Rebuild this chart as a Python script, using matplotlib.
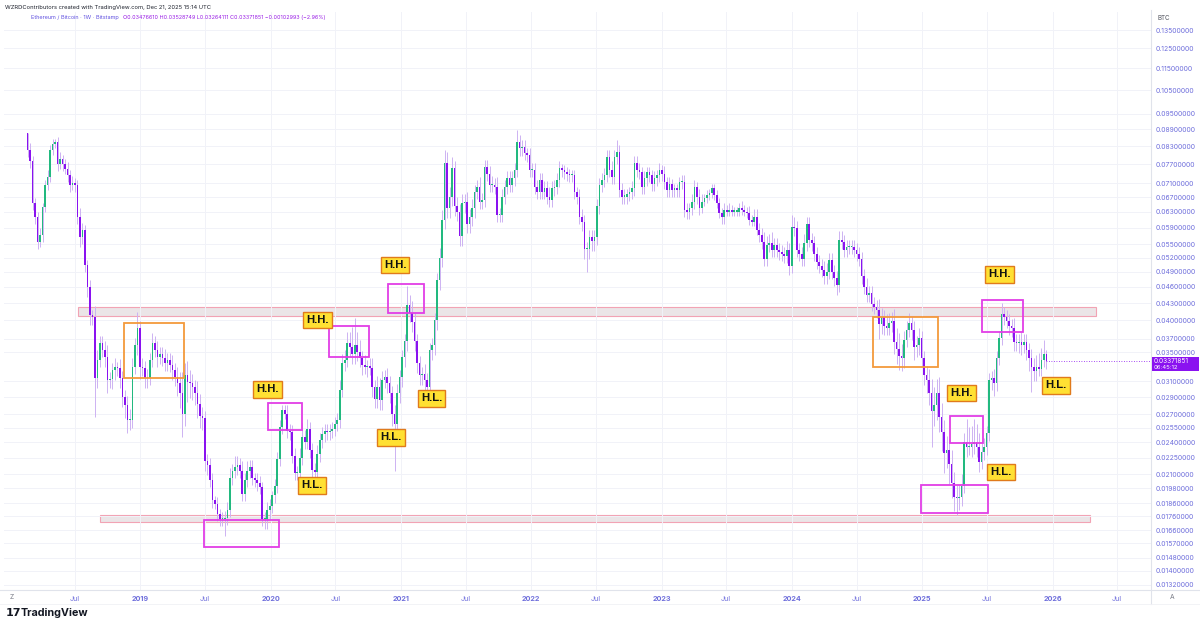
import numpy as np
import pandas as pd
import matplotlib
matplotlib.use('Agg')
import matplotlib.pyplot as plt
import matplotlib.dates as mdates
from matplotlib.patches import Rectangle
from matplotlib.lines import Line2D
from matplotlib.ticker import FuncFormatter, NullLocator, FixedLocator

plt.rcParams['font.family'] = ['Inter', 'DejaVu Sans']

# ---------------- data (weekly ETH/BTC, Bitstamp) ----------------
START = '2018-02-19'
first_open = 876.0   # units of 1e-4 BTC
closes = [
    817, 780, 655, 617, 555, 572, 642, 705, 729, 817,
    839, 845, 770, 785, 770, 755, 735, 705, 712, 705,
    617, 567, 584, 505, 460, 409, 405, 314, 339, 363,
    353, 343, 311, 313, 325, 329, 327, 314, 290, 280,
    263, 263, 329, 360, 387, 329, 327, 314, 314, 339,
    364, 353, 343, 347, 341, 334, 339, 332, 325, 316,
    307, 295, 270, 318, 309, 307, 302, 295, 282, 268,
    266, 222, 218, 205, 188, 185, 178, 174, 174, 175,
    181, 207, 213, 216, 218, 213, 193, 205, 213, 216,
    207, 205, 202, 199, 174, 174, 181, 184, 192, 200,
    224, 256, 275, 270, 252, 250, 227, 211, 211, 225,
    245, 240, 254, 232, 214, 212, 228, 242, 248, 252,
    250, 252, 254, 259, 263, 299, 334, 339, 363, 357,
    347, 360, 351, 342, 332, 329, 329, 328, 302, 288,
    302, 286, 311, 315, 307, 295, 270, 259, 295, 315,
    343, 367, 427, 413, 397, 367, 334, 318, 320, 311,
    302, 353, 360, 400, 474, 520, 610, 772, 640, 672,
    756, 645, 631, 570, 654, 658, 600, 618, 640, 686,
    700, 658, 663, 761, 740, 705, 705, 700, 622, 622,
    672, 700, 725, 705, 725, 751, 844, 822, 828, 806,
    800, 751, 751, 700, 686, 720, 686, 695, 672, 663,
    695, 700, 720, 756, 751, 745, 740, 735, 735, 686,
    672, 618, 605, 539, 539, 566, 557, 566, 645, 705,
    720, 735, 794, 751, 730, 794, 811, 691, 672, 672,
    680, 686, 695, 772, 751, 745, 700, 725, 745, 735,
    709, 725, 735, 751, 740, 715, 691, 709, 691, 695,
    691, 715, 715, 635, 631, 640, 658, 700, 672, 640,
    658, 667, 677, 681, 695, 677, 654, 627, 618, 635,
    631, 635, 631, 631, 631, 640, 635, 631, 627, 609,
    605, 618, 584, 572, 556, 517, 548, 552, 537, 548,
    537, 532, 528, 524, 537, 503, 592, 588, 537, 528,
    517, 552, 600, 560, 552, 528, 511, 503, 494, 481,
    490, 515, 490, 477, 464, 560, 556, 537, 544, 544,
    544, 537, 528, 517, 481, 460, 445, 448, 429, 423,
    417, 394, 405, 391, 388, 396, 399, 366, 355, 345,
    341, 368, 384, 396, 384, 357, 360, 372, 342, 318,
    311, 295, 273, 280, 295, 267, 251, 229, 232, 219,
    202, 191, 190, 191, 200, 240, 235, 235, 238, 240,
    235, 221, 230, 235, 249, 311, 314, 307, 342, 372,
    410, 405, 399, 391, 388, 366, 363, 366, 360, 366,
    353, 341, 329, 323, 329, 326, 339, 347.661, 337.1851,
]
# upper / lower wick length in % beyond the body
wick_up = [
    0, 3, 2, 2, 2, 3, 2, 2, 3, 2,
    2, 1, 2, 3, 2, 2, 3, 2, 3, 2,
    2, 4, 3, 2, 2, 3, 2, 5, 4, 3,
    3, 4, 5, 3, 3, 4, 2, 4, 3, 3,
    4, 5, 4, 3, 7, 3, 4, 3, 4, 3,
    4, 3, 4, 3, 3, 4, 3, 3, 4, 3,
    4, 5, 9, 5, 6, 5, 4, 3, 5, 4,
    4, 3, 3, 3, 3, 2, 3, 2, 3, 3,
    3, 4, 3, 5, 4, 3, 4, 3, 4, 3,
    3, 2, 3, 3, 2, 3, 3, 3, 2, 3,
    3, 3, 2, 2, 4, 3, 3, 3, 3, 4,
    6, 3, 4, 3, 3, 3, 4, 3, 3, 3,
    3, 3, 3, 3, 3, 4, 4, 4, 5, 5,
    9, 12, 6, 5, 3, 4, 3, 4, 4, 3,
    5, 4, 4, 3, 4, 3, 3, 4, 4, 3,
    3, 3, 8, 4, 5, 4, 3, 3, 3, 4,
    3, 3, 3, 3, 3, 4, 4, 6, 5, 4,
    5, 3, 4, 3, 4, 3, 4, 3, 4, 3,
    3, 4, 3, 3, 3, 3, 4, 3, 4, 3,
    3, 3, 3, 3, 3, 3, 5, 3, 3, 3,
    2, 3, 3, 3, 3, 3, 3, 3, 3, 4,
    3, 3, 3, 3, 2, 2, 2, 2, 2, 2,
    2, 3, 3, 3, 3, 3, 3, 3, 3, 3,
    3, 3, 3, 3, 4, 3, 5, 3, 3, 3,
    2, 2, 3, 3, 3, 3, 2, 3, 2, 2,
    2, 3, 2, 3, 2, 3, 2, 3, 2, 2,
    2, 2, 3, 3, 3, 2, 3, 3, 2, 3,
    3, 2, 2, 2, 2, 2, 2, 2, 2, 3,
    2, 3, 2, 2, 2, 2, 3, 2, 2, 3,
    2, 3, 3, 3, 3, 4, 4, 4, 5, 3,
    3, 3, 3, 3, 4, 3, 5, 4, 3, 3,
    3, 4, 3, 3, 3, 3, 3, 3, 3, 4,
    4, 3, 3, 3, 3, 4, 4, 3, 3, 3,
    3, 3, 3, 3, 3, 3, 4, 3, 3, 3,
    3, 5, 4, 3, 5, 4, 4, 5, 6, 7,
    5, 4, 4, 4, 3, 4, 4, 4, 3, 3,
    4, 5, 6, 8, 6, 7, 6, 5, 6, 5,
    6, 5, 5, 5, 5, 4, 10, 9, 8, 10,
    8, 6, 4, 4, 3, 3, 3, 4, 3, 3,
    5, 3, 3, 3, 3, 4, 3, 3, 4, 3,
    3, 3, 4, 4, 5, 6, 5, 6, 0,
]
wick_dn = [
    3, 3, 3, 3, 3, 2, 3, 2, 2, 2,
    2, 2, 3, 2, 3, 2, 3, 3, 2, 3,
    3, 4, 3, 3, 4, 4, 3, 15, 4, 3,
    3, 4, 5, 3, 4, 4, 3, 4, 4, 5,
    5, 4, 3, 3, 4, 5, 3, 4, 4, 3,
    3, 3, 4, 3, 3, 3, 3, 3, 4, 4,
    5, 6, 9, 5, 8, 6, 5, 5, 6, 5,
    5, 4, 4, 3, 3, 2, 3, 3, 3, 7,
    3, 3, 3, 3, 3, 3, 3, 3, 3, 3,
    3, 3, 3, 3, 3, 4, 4, 4, 3, 3,
    3, 3, 3, 2, 3, 3, 3, 3, 3, 3,
    3, 3, 3, 3, 3, 3, 3, 3, 3, 3,
    3, 3, 3, 3, 3, 3, 3, 3, 3, 4,
    4, 4, 4, 4, 4, 3, 4, 3, 4, 4,
    4, 4, 4, 3, 4, 4, 5, 18, 4, 4,
    4, 4, 4, 4, 4, 4, 4, 4, 4, 5,
    5, 4, 4, 4, 4, 4, 4, 4, 4, 4,
    4, 4, 4, 4, 4, 4, 4, 4, 4, 4,
    3, 3, 3, 3, 3, 3, 3, 3, 3, 3,
    3, 3, 3, 3, 3, 3, 3, 3, 3, 3,
    3, 3, 3, 3, 3, 3, 3, 3, 3, 3,
    3, 3, 3, 3, 3, 3, 3, 3, 3, 3,
    3, 3, 4, 4, 9, 4, 4, 4, 3, 3,
    3, 3, 3, 3, 3, 3, 3, 3, 3, 3,
    3, 3, 3, 3, 3, 3, 3, 3, 3, 3,
    3, 3, 3, 3, 3, 3, 3, 3, 3, 3,
    3, 3, 3, 3, 3, 3, 3, 3, 3, 3,
    2, 2, 2, 2, 2, 2, 2, 2, 3, 3,
    2, 2, 2, 2, 2, 2, 2, 2, 2, 2,
    2, 2, 2, 3, 3, 3, 3, 3, 3, 3,
    3, 3, 3, 3, 3, 4, 3, 3, 3, 3,
    3, 3, 3, 3, 3, 3, 3, 3, 3, 3,
    3, 3, 3, 3, 4, 3, 3, 3, 3, 3,
    3, 3, 3, 3, 3, 3, 3, 3, 3, 3,
    3, 6, 4, 4, 3, 3, 4, 5, 6, 6,
    5, 4, 3, 3, 4, 5, 4, 4, 4, 4,
    5, 5, 14, 6, 6, 6, 8, 8, 6, 8,
    6, 6, 7, 5, 4, 3, 4, 3, 4, 4,
    4, 4, 3, 3, 3, 3, 4, 5, 3, 3,
    3, 3, 3, 4, 4, 4, 3, 4, 4, 3,
    4, 5, 10, 4, 4, 3, 3, 3, 0,
]
last_ohlc = [0.03476610, 0.03528749, 0.03264111, 0.03371851]

ytick_vals = [0.135, 0.125, 0.115, 0.105, 0.095, 0.089, 0.083, 0.077, 0.071,
              0.067, 0.063, 0.059, 0.055, 0.052, 0.049, 0.046, 0.043, 0.040,
              0.037, 0.035, 0.031, 0.029, 0.027, 0.0255, 0.024, 0.0225, 0.021,
              0.0198, 0.0186, 0.0176, 0.0166, 0.0157, 0.0148, 0.0140, 0.0132]
xtick_dates = ['2018-07-01', '2019-01-01', '2019-07-01', '2020-01-01', '2020-07-01',
               '2021-01-01', '2021-07-01', '2022-01-01', '2022-07-01', '2023-01-01',
               '2023-07-01', '2024-01-01', '2024-07-01', '2025-01-01', '2025-07-01',
               '2026-01-01', '2026-07-01']
xtick_labels = ['Jul', '2019', 'Jul', '2020', 'Jul', '2021', 'Jul', '2022', 'Jul',
                '2023', 'Jul', '2024', 'Jul', '2025', 'Jul', '2026', 'Jul']

# horizontal zones: (start, end, low, high)
zones = [('2018-07-10', '2026-05-04', 0.04074, 0.04230),
         ('2018-09-10', '2026-04-17', 0.01719, 0.01770)]
# rectangles: (start, end, low, high, kind)
boxes = [('2018-11-16', '2019-05-04', 0.03141, 0.03956, 'orange'),
         ('2019-06-28', '2020-01-25', 0.01548, 0.01733, 'pink'),
         ('2019-12-25', '2020-03-30', 0.02527, 0.02830, 'pink'),
         ('2020-06-12', '2020-10-04', 0.03431, 0.03907, 'pink'),
         ('2020-11-25', '2021-03-07', 0.04126, 0.04658, 'pink'),
         ('2024-08-16', '2025-02-15', 0.03290, 0.04057, 'orange'),
         ('2025-03-21', '2025-06-21', 0.02393, 0.02680, 'pink'),
         ('2024-12-27', '2025-07-05', 0.01785, 0.02007, 'pink'),
         ('2025-06-18', '2025-10-11', 0.03810, 0.04356, 'pink')]
# text labels: (date, price, text)
labels = [('2019-12-24', 0.02994, 'H.H.'), ('2020-04-26', 0.02003, 'H.L.'),
          ('2020-05-12', 0.04006, 'H.H.'), ('2020-12-04', 0.02449, 'H.L.'),
          ('2020-12-15', 0.05044, 'H.H.'), ('2021-03-27', 0.02883, 'H.L.'),
          ('2025-04-22', 0.02951, 'H.H.'), ('2025-08-09', 0.02119, 'H.L.'),
          ('2025-08-05', 0.04848, 'H.H.'), ('2026-01-10', 0.03045, 'H.L.')]

# ---------------- derived ----------------
n = min(len(closes), len(wick_up), len(wick_dn))
c = np.array(closes[:n], dtype=float) * 1e-4
o = np.concatenate([[first_open * 1e-4], c[:-1]])
wu = np.array(wick_up[:n], dtype=float) / 100
wd = np.array(wick_dn[:n], dtype=float) / 100
hi = np.maximum(o, c) * (1 + wu)
lo = np.minimum(o, c) * (1 - wd)
o[-1], hi[-1], lo[-1], c[-1] = last_ohlc
dates = pd.date_range(START, periods=n, freq='7D')
x = mdates.date2num(dates.to_pydatetime())

UP = '#22b97f'
DN = '#8a12f0'
WICK = '#cdb2f2'
PINK = '#e23ee6'
ORANGE = '#f39a3c'
AXC = '#6f6fdc'

W, H = 1200, 628
fig = plt.figure(figsize=(W / 100, H / 100), dpi=100)
fig.patch.set_facecolor('white')
L, R, T, B = 4, 1151, 12, 590
ax = fig.add_axes([L / W, 1 - B / H, (R - L) / W, (B - T) / H])
ax.set_yscale('log')
ax.set_facecolor('white')

def d2n(s):
    return mdates.datestr2num(s)

ax.set_xlim(d2n('2017-12-15'), d2n('2026-10-04'))
ax.set_ylim(0.01292, 0.1456)

ax.yaxis.set_major_locator(FixedLocator(ytick_vals))
ax.yaxis.set_minor_locator(NullLocator())
ax.yaxis.set_major_formatter(FuncFormatter(lambda v, p: f'{v:.8f}'))
ax.xaxis.set_major_locator(FixedLocator([d2n(s) for s in xtick_dates]))
ax.set_xticklabels(xtick_labels)
ax.grid(True, color='#f1f2f8', lw=0.7, zorder=0)
ax.yaxis.tick_right()
ax.tick_params(axis='y', length=0, pad=3, labelsize=4.9, labelcolor=AXC)
ax.tick_params(axis='x', length=0, pad=4.5, labelsize=5.2, labelcolor=AXC)
for t in ax.get_xticklabels():
    if t.get_text() != 'Jul':
        t.set_fontweight('bold')
for s in ['top', 'left', 'right', 'bottom']:
    ax.spines[s].set_visible(False)

# zones
for s, e, lo_, hi_ in zones:
    ax.add_patch(Rectangle((d2n(s), lo_), d2n(e) - d2n(s), hi_ - lo_,
                           facecolor='#ebe5e7', edgecolor='#f2a3b4', lw=0.8, zorder=1))

# candles
ax.vlines(x, lo, hi, color=WICK, lw=0.7, zorder=2)
up = c >= o
body = np.maximum(np.abs(c - o), c * 0.005)
ax.bar(x[up], body[up], bottom=np.minimum(o, c)[up], width=4.6, color=UP, lw=0, zorder=3)
ax.bar(x[~up], body[~up], bottom=np.minimum(o, c)[~up], width=4.6, color=DN, lw=0, zorder=3)

# boxes
for s, e, lo_, hi_, kind in boxes:
    ax.add_patch(Rectangle((d2n(s), lo_), d2n(e) - d2n(s), hi_ - lo_, fill=False,
                           edgecolor=PINK if kind == 'pink' else ORANGE, lw=1.3, zorder=4))

# labels
for d, p, t in labels:
    ax.text(d2n(d), p, t, ha='center', va='center', fontsize=8.2, fontweight='bold',
            family=['Liberation Sans', 'DejaVu Sans'], color='#111111', zorder=6,
            bbox=dict(boxstyle='square,pad=0.28', fc='#ffe033', ec='#e07a1c', lw=1.0))

# last price line
ax.plot([x[-1], ax.get_xlim()[1]], [c[-1], c[-1]], color=DN, lw=0.6, ls=(0, (1, 2)), zorder=2)

# ---------------- frame / decorations ----------------
def fx(p):
    return p / W

def fy(p):
    return 1 - p / H

fig.add_artist(Line2D([0, 1], [fy(590), fy(590)], color='#e0e3eb', lw=0.8))
fig.add_artist(Line2D([fx(1151), fx(1151)], [fy(10), fy(604)], color='#e0e3eb', lw=0.8))
fig.add_artist(Line2D([0, 1], [fy(604), fy(604)], color='#f0f1f5', lw=0.6))

fig.text(fx(5), fy(7), 'WZRDContributors created with TradingView.com, Dec 21, 2025 15:14 UTC',
         fontsize=4.2, color='#1e222d', va='center', ha='left')
t1 = fig.text(fx(31), fy(18), 'Ethereum / Bitcoin · 1W · Bitstamp',
              fontsize=4.0, color='#6253e0', va='center', ha='left')
renderer = fig.canvas.get_renderer()
bb = t1.get_window_extent(renderer=renderer)
fig.text(bb.x1 / W + fx(4), fy(18),
         'O0.03476610 H0.03528749 L0.03264111 C0.03371851 \u22120.00102993 (\u22122.96%)',
         fontsize=3.9, color='#9a1fe6', va='center', ha='left')
fig.text(fx(1157), fy(18), 'BTC', fontsize=4.5, color='#50535e', va='center', ha='left')

# price tag
fig.add_artist(Rectangle((fx(1152), fy(371)), fx(47), 14 / H, transform=fig.transFigure,
                         facecolor=DN, edgecolor='none', zorder=5))
fig.text(fx(1154), fy(361), '0.03371851', fontsize=4.7, color='white', va='center', ha='left',
         zorder=6)
fig.text(fx(1154), fy(367.5), '06:45:12', fontsize=4.3, color='white', va='center', ha='left',
         zorder=6)

fig.text(fx(12), fy(597), 'Z', fontsize=4.8, color='#787b86', va='center', ha='center')
fig.text(fx(1172), fy(597), 'A', fontsize=4.8, color='#787b86', va='center', ha='center')

fig.text(fx(6), fy(613), '17', fontsize=8, fontweight='heavy', color='#131722',
         va='center', ha='left', family=['DejaVu Sans'])
fig.text(fx(21), fy(613), 'TradingView', fontsize=7.8, fontweight='bold', color='#131722',
         va='center', ha='left')

fig.savefig('out.png', dpi=100, facecolor='white')
